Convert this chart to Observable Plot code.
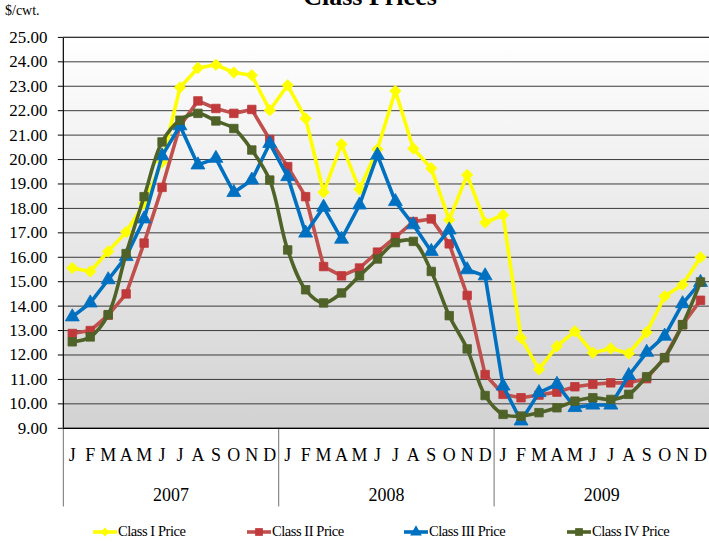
<!DOCTYPE html>
<html><head><meta charset="utf-8">
<script src="https://cdn.jsdelivr.net/npm/d3@7"></script>
<script src="https://cdn.jsdelivr.net/npm/@observablehq/plot@0.6"></script>
<style>
html,body{margin:0;padding:0;background:#fff;overflow:hidden;}
#wrap{position:relative;width:709px;height:545px;overflow:hidden;font-family:"Liberation Serif","Times New Roman",serif;}
#title{position:absolute;left:0;width:740px;text-align:center;top:-16px;font-size:26px;font-weight:bold;line-height:26px;z-index:2;}
#unit{position:absolute;left:5px;top:4px;font-size:14px;line-height:14px;z-index:2;}
#chart svg{display:block;}
#legend{position:relative;height:30px;}
.item{position:absolute;top:3px;height:30px;display:flex;align-items:center;font-size:14.5px;letter-spacing:-0.45px;white-space:nowrap;}
.item svg{margin-right:1px;}
</style></head>
<body>
<div id="wrap">
  <div id="title">Class Prices</div>
  <div id="unit">$/cwt.</div>
  <div id="chart"></div>
  <div id="legend"></div>
</div>
<script>
const months = ["J","F","M","A","M","J","J","A","S","O","N","D"];
const years = ["2007","2008","2009"];
const yTicks = [9,10,11,12,13,14,15,16,17,18,19,20,21,22,23,24,25];

const classI = [15.56,15.42,16.24,17.03,18.2,19.9,22.95,23.75,23.88,23.56,23.45,22.02,
                23.04,21.68,18.66,20.63,18.78,20.42,22.81,20.45,19.64,17.53,19.37,17.42,
                17.73,12.70,11.41,12.36,12.97,12.09,12.27,12.06,12.93,14.40,14.88,16.00];
const classII = [12.88,13.00,13.63,14.50,16.58,18.86,21.38,22.40,22.09,21.89,22.05,20.82,
                 19.71,18.48,15.62,15.24,15.56,16.21,16.82,17.46,17.57,16.55,14.44,11.20,
                 10.39,10.25,10.36,10.48,10.70,10.80,10.86,10.86,11.03,11.89,13.24,14.24];
const classIII = [13.56,14.13,15.08,16.03,17.57,20.15,21.38,19.78,20.05,18.65,19.16,20.66,
                  19.30,16.99,18.05,16.74,18.14,20.18,18.28,17.33,16.24,17.12,15.49,15.24,
                  10.73,9.30,10.46,10.80,9.85,9.95,9.95,11.16,12.11,12.77,14.10,14.97];
const classIV = [12.54,12.74,13.65,16.15,18.48,20.72,21.61,21.89,21.58,21.27,20.39,19.16,
                 16.30,14.67,14.13,14.54,15.24,15.93,16.60,16.65,15.42,13.61,12.25,10.34,
                 9.57,9.50,9.64,9.84,10.11,10.25,10.18,10.39,11.11,11.89,13.24,14.99];

const seriesNames = ["Class I Price","Class II Price","Class III Price","Class IV Price"];
const seriesValues = [classI, classII, classIII, classIV];
const lineColors = ["#ffff00","#c0504d","#0070c0","#4f6228"];
const markColors = ["#ffff00","#c0393b","#0070c0","#4f6228"];
const symbols = ["diamond2","square","triangle","square"];
const symbolR = [5.2,4.8,5.2,4.8];
const curves = ["linear","linear","linear","catmull-rom"];

const font = "Liberation Serif, Times New Roman, serif";

const monthRows = [];
years.forEach((yr, yi) => months.forEach((m, mi) => monthRows.push({i: yi*12+mi, m})));
const yearRows = years.map((yr, yi) => ({x: yi*12 + 5.5, yr}));
const boundaries = years.map((yr, yi) => yi*12 - 0.5);

const marks = [
  Plot.frame({fill: "url(#bgGrad)"}),
  Plot.gridY(yTicks, {stroke: "#3a3a3a", strokeOpacity: 1, strokeWidth: 1}),
  Plot.axisY(yTicks, {tickFormat: d => d.toFixed(2), fontSize: 17, fontFamily: font, tickSize: 5, tickPadding: 11, stroke: "#000", fill: "#000", label: null}),
  Plot.ruleX(boundaries, {y1: 9, y2: 5.78, stroke: "#707070", strokeWidth: 1}),
  Plot.ruleX([-0.5], {stroke: "#000", strokeWidth: 1.2}),
  Plot.ruleY([9], {stroke: "#000", strokeWidth: 1.2}),
  Plot.ruleY([25], {stroke: "#333", strokeWidth: 1.2}),
  Plot.text(monthRows, {x: "i", text: "m", frameAnchor: "bottom", lineAnchor: "middle", dy: 27, fontSize: 18, fontFamily: font, fill: "#000"}),
  Plot.text(yearRows, {x: "x", text: "yr", frameAnchor: "bottom", lineAnchor: "middle", dy: 67, fontSize: 18, fontFamily: font, fill: "#000"})
];

seriesValues.forEach((vals, s) => {
  const rows = vals.map((v, i) => ({i, v}));
  marks.push(Plot.line(rows, {x: "i", y: "v", stroke: lineColors[s], strokeWidth: 3.6, curve: curves[s], strokeLinejoin: "round"}));
  marks.push(Plot.dot(rows, {x: "i", y: "v", symbol: symbols[s], r: symbolR[s], fill: markColors[s], stroke: markColors[s], strokeWidth: 0.8}));
});

const svg = Plot.plot({
  width: 711,
  height: 515,
  marginTop: 37,
  marginBottom: 86,
  marginLeft: 63,
  marginRight: 0,
  style: {background: "transparent", fontFamily: font, overflow: "visible"},
  x: {type: "linear", domain: [-0.5, 35.5], axis: null},
  y: {domain: [9, 25], axis: null},
  marks
});

const ns = "http://www.w3.org/2000/svg";
const defs = document.createElementNS(ns, "defs");
defs.innerHTML = '<linearGradient id="bgGrad" x1="0" y1="0" x2="0" y2="1">' +
  '<stop offset="0" stop-color="#ffffff"/><stop offset="1" stop-color="#d2d2d2"/></linearGradient>';
svg.insertBefore(defs, svg.firstChild);
document.getElementById("chart").appendChild(svg);

// legend
const legendLeft = [93, 247, 404, 567];
const leg = document.getElementById("legend");
seriesNames.forEach((name, s) => {
  const item = document.createElement("div");
  item.className = "item";
  item.style.left = legendLeft[s] + "px";
  const sw = d3.create("svg").attr("width", 24).attr("height", 14);
  sw.append("line").attr("x1", 0).attr("x2", 24).attr("y1", 7).attr("y2", 7)
    .attr("stroke", lineColors[s]).attr("stroke-width", 3.6);
  sw.append("path").attr("transform", "translate(12,7)")
    .attr("d", d3.symbol(s === 0 ? d3.symbolDiamond2 : s === 2 ? d3.symbolTriangle : d3.symbolSquare, s === 0 ? 50 : 60)())
    .attr("fill", markColors[s]);
  item.appendChild(sw.node());
  const t = document.createElement("span");
  t.textContent = name;
  item.appendChild(t);
  leg.appendChild(item);
});
</script>
</body></html>
